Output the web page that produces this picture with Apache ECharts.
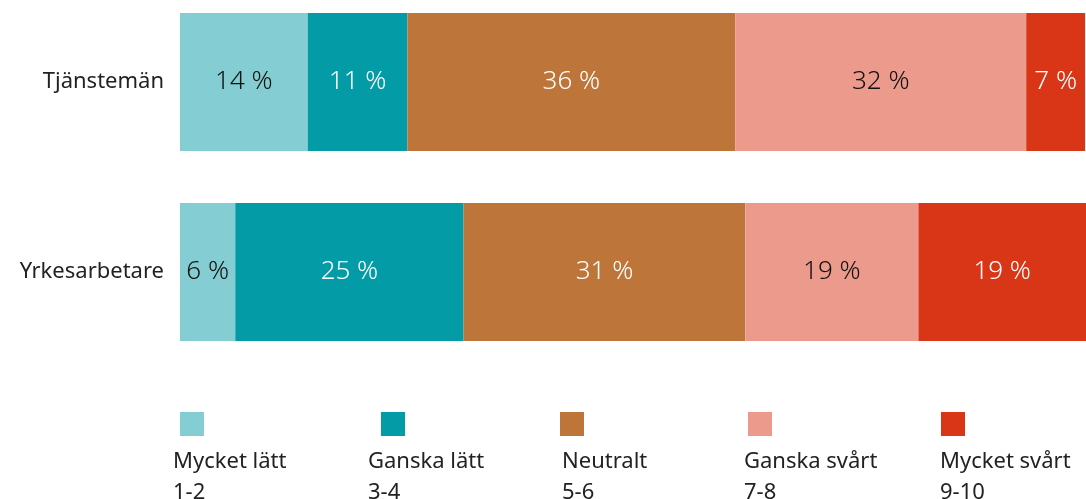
<!DOCTYPE html>
<html>
<head>
<meta charset="utf-8">
<script src="https://cdn.jsdelivr.net/npm/echarts@6/dist/echarts.min.js"></script>
<style>
  html, body { margin: 0; padding: 0; background: #fff; }
  #chart { width: 1086px; height: 499px; }
</style>
</head>
<body>
<div id="chart"></div>
<script>
  // data
  var categories = ['Tjänstemän', 'Yrkesarbetare'];
  var seriesNames = ['Mycket lätt', 'Ganska lätt', 'Neutralt', 'Ganska svårt', 'Mycket svårt'];
  var seriesRanges = ['1-2', '3-4', '5-6', '7-8', '9-10'];
  var mycketLatt = [14.1, 6.1];
  var ganskaLatt = [11.0, 25.2];
  var neutralt = [36.2, 31.1];
  var ganskaSvart = [32.1, 19.1];
  var mycketSvart = [6.5, 18.5];
  var seriesValues = [mycketLatt, ganskaLatt, neutralt, ganskaSvart, mycketSvart];

  var colors = ['#84ced3', '#039ba5', '#bd753a', '#ec9a8c', '#d93617'];
  var labelColors = ['#111', '#fff', '#fff', '#111', '#fff'];
  var fontFamily = '"Noto Sans", "Open Sans", sans-serif';

  var myChart = echarts.init(document.getElementById('chart'));

  var series = seriesNames.map(function (name, i) {
    return {
      name: name,
      type: 'bar',
      stack: 'total',
      barWidth: 138,
      clip: false,
      itemStyle: { color: colors[i] },
      label: {
        show: true,
        position: 'inside',
        color: labelColors[i],
        fontSize: 26,
        fontWeight: 300,
        fontFamily: fontFamily,
        formatter: function (p) { return Math.round(p.value) + ' %'; }
      },
      emphasis: { disabled: true },
      data: seriesValues[i]
    };
  });

  // legend: square on top, two-line text below
  var legendX = [180, 381, 560, 748, 941];
  var legendTextX = [173, 368, 562, 744, 940];
  var graphic = [];
  seriesNames.forEach(function (name, i) {
    graphic.push({
      type: 'rect',
      left: legendX[i],
      top: 412,
      shape: { width: 24, height: 24 },
      style: { fill: colors[i] }
    });
    graphic.push({
      type: 'text',
      left: legendTextX[i],
      top: 446,
      style: {
        text: name + '\n' + seriesRanges[i],
        fill: '#222',
        font: '22px ' + fontFamily,
        lineHeight: 31
      }
    });
  });

  var option = {
    animation: false,
    grid: { left: 180, right: 0, top: 82, height: 190 },
    xAxis: {
      type: 'value',
      min: 0,
      max: 100,
      show: false
    },
    yAxis: {
      type: 'category',
      inverse: true,
      boundaryGap: false,
      data: categories,
      axisLine: { show: false },
      axisTick: { show: false },
      splitLine: { show: false },
      axisLabel: {
        color: '#222',
        fontSize: 22,
        fontFamily: fontFamily,
        margin: 16
      }
    },
    graphic: graphic,
    series: series
  };

  myChart.setOption(option);
</script>
</body>
</html>
